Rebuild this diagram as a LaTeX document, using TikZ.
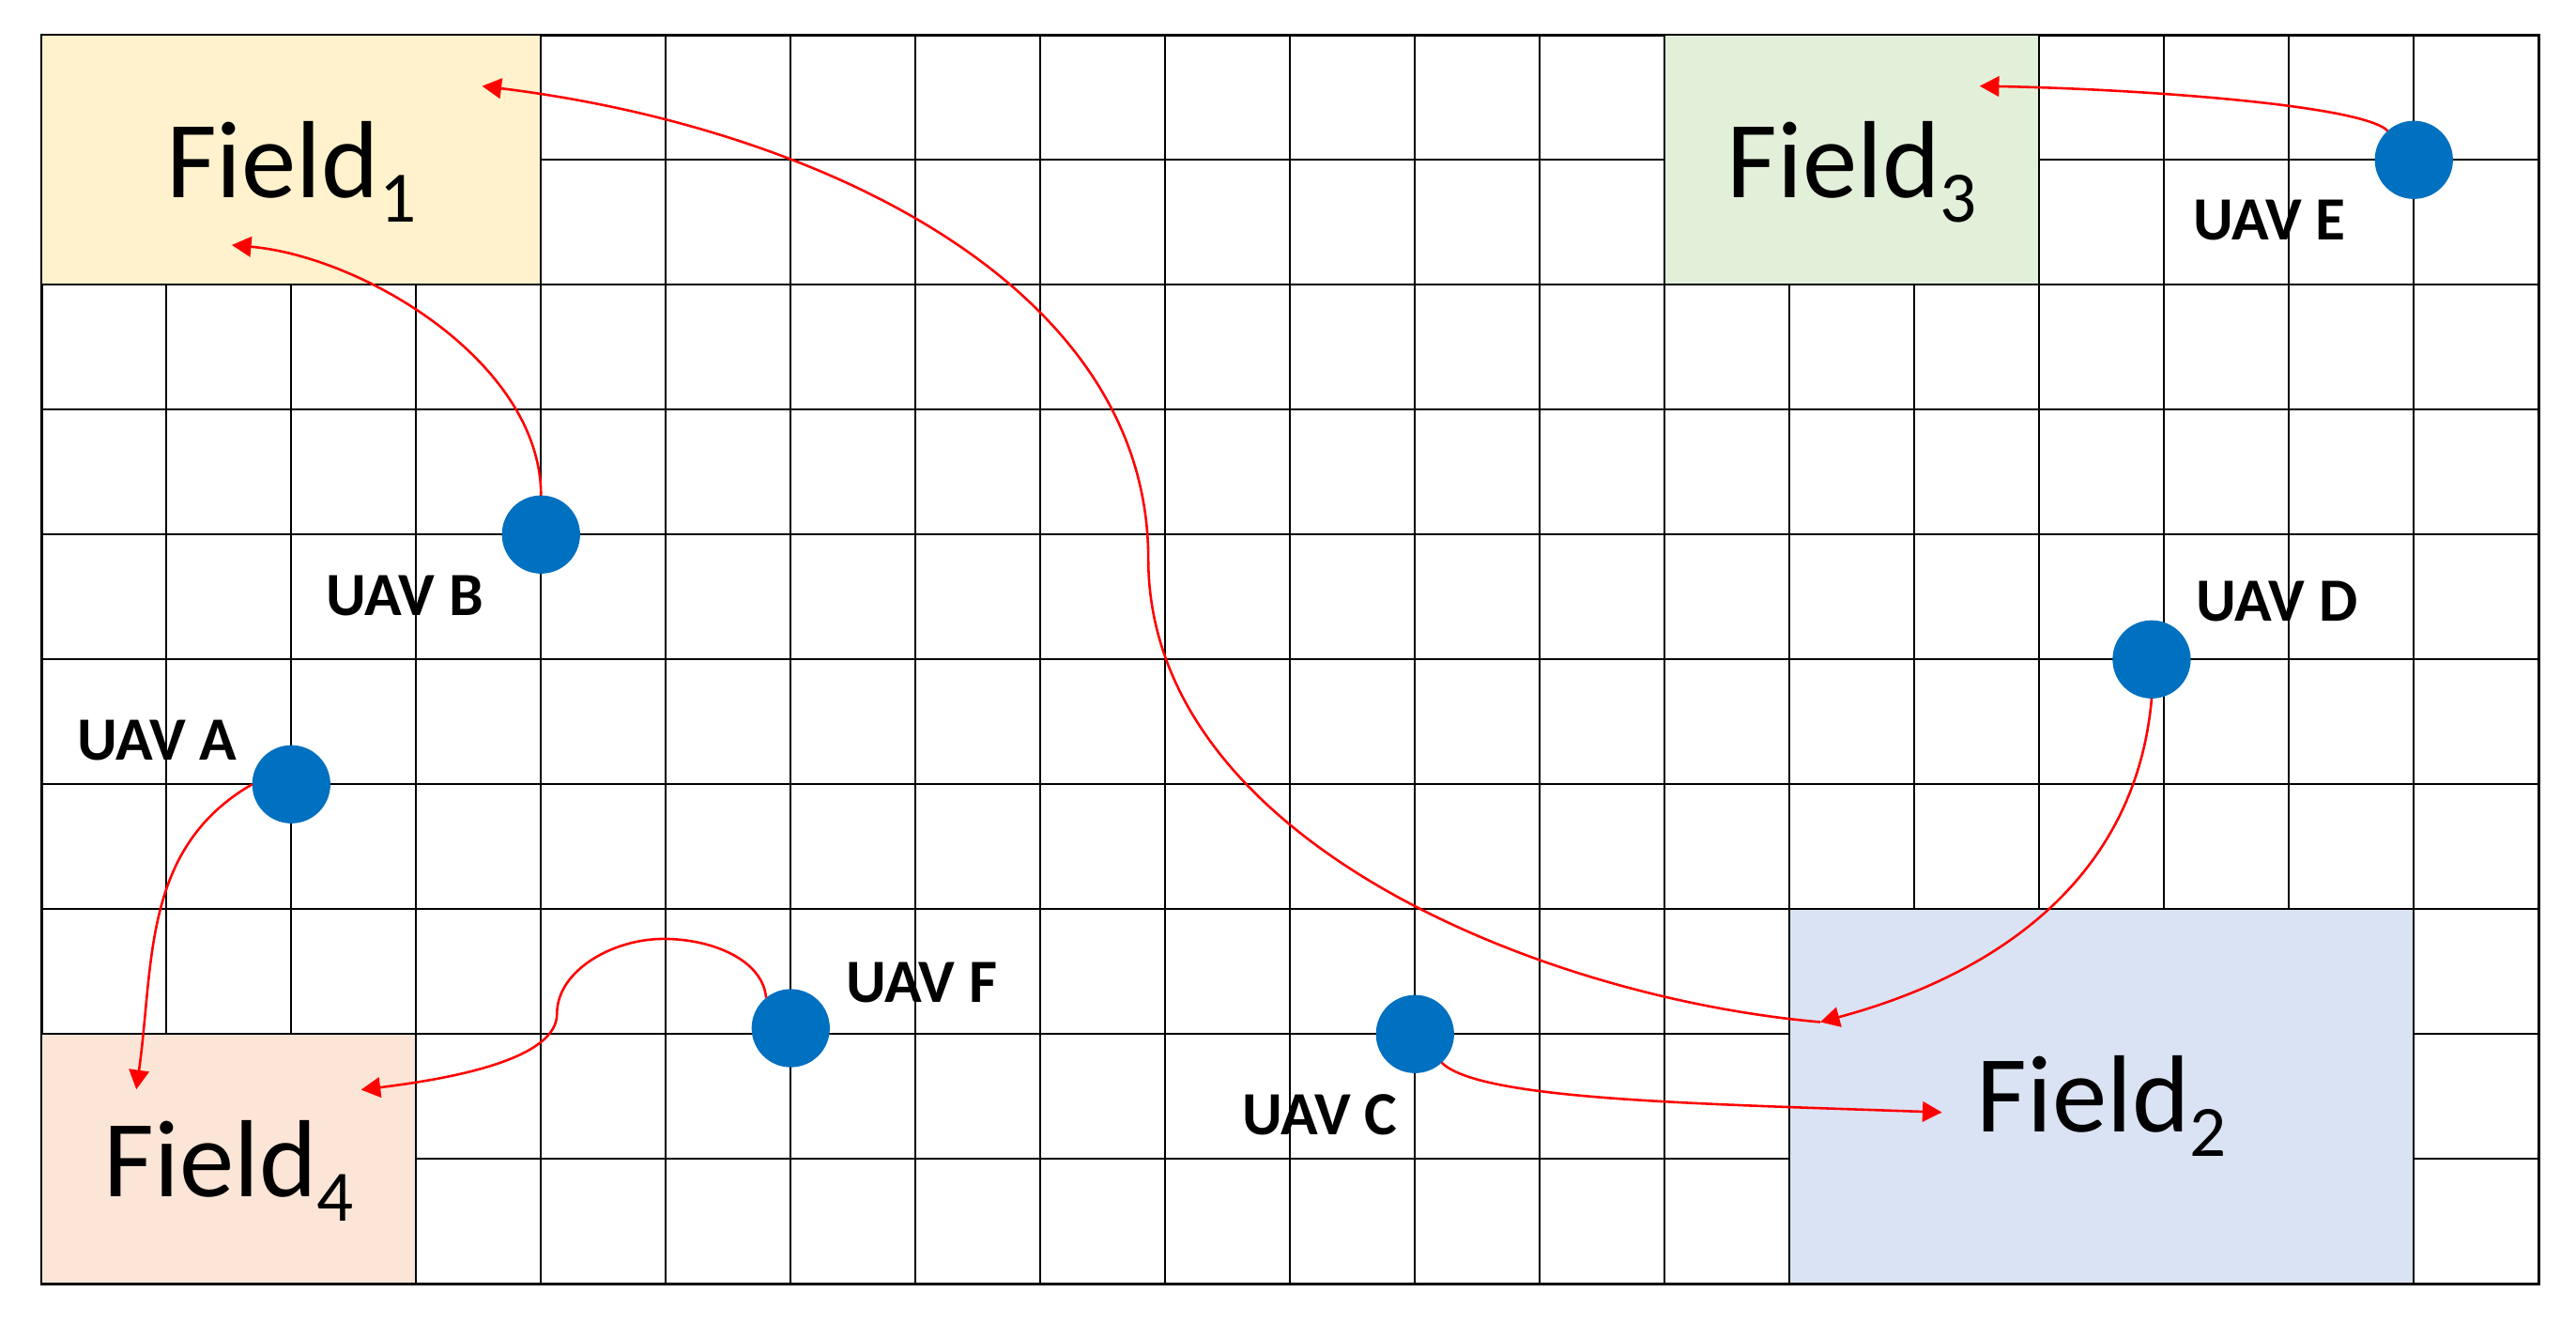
\documentclass[tikz,border=0pt]{standalone}
\usepackage{fontspec}
\setmainfont{Carlito}
\usetikzlibrary{arrows.meta}
\definecolor{uavblue}{HTML}{0070C0}
\definecolor{fone}{HTML}{FFF2CC}
\definecolor{ftwo}{HTML}{DAE3F3}
\definecolor{fthree}{HTML}{E2F0D9}
\definecolor{ffour}{HTML}{FBE5D6}
\newcommand{\fsub}[1]{\raisebox{-5.7pt}{\fontsize{16.5}{16.5}\selectfont #1}}
\begin{document}
\begin{tikzpicture}[
  gridline/.style={line width=0.5pt, black},
  field/.style={draw=black, line width=0.5pt, rectangle, inner sep=0pt, outer sep=0pt},
  ftext/.style={font=\fontsize{25}{30}\selectfont, inner sep=0pt, anchor=base},
  uav/.style={circle, fill=uavblue, minimum size=0.626cm, inner sep=0pt, outer sep=0pt},
  uavlabel/.style={font=\fontsize{14}{17}\selectfont\bfseries, inner sep=0pt},
  route/.style={red, line width=0.55pt, -{Triangle[length=4.4pt,width=4.6pt]}},
  routeplain/.style={red, line width=0.55pt}
]
\useasboundingbox (-0.333,0.280) rectangle (20.299,-10.312);
\draw[gridline] (0,0) grid (20,-10);
\draw[line width=0.6pt] (0,0) rectangle (20,-10);

% fields
\node[field, fill=fone, minimum width=4cm, minimum height=2cm] (F1) at (2,-1) {};
\node[field, fill=fthree, minimum width=3cm, minimum height=2cm] (F3) at (14.5,-1) {};
\node[field, fill=ftwo, minimum width=5cm, minimum height=3cm] (F2) at (16.5,-8.5) {};
\node[field, fill=ffour, minimum width=3cm, minimum height=2cm] (F4) at (1.5,-9) {};
\node[ftext] (ft1) at ([yshift=-0.3cm]F1.center) {Field\fsub{1}};
\node[ftext] (ft3) at ([yshift=-0.3cm]F3.center) {Field\fsub{3}};
\node[ftext] (ft2) at ([yshift=-0.28cm]F2.center) {Field\fsub{2}};
\node[ftext] (ft4) at ([yshift=-0.3cm]F4.center) {Field\fsub{4}};

% UAVs
\node[uav] (A) at (2,-6) {};
\node[uav] (B) at (4,-4) {};
\node[uav] (C) at (11,-8) {};
\node[uav] (D) at (16.9,-5) {};
\node[uav] (E) at (19,-1) {};
\node[uav] (F) at (6,-7.953) {};
\node[uavlabel] (lA) at (0.925,-5.652) {UAV A};
\node[uavlabel] (lB) at (2.910,-4.488) {UAV B};
\node[uavlabel] (lC) at (10.238,-8.647) {UAV C};
\node[uavlabel] (lD) at (17.904,-4.538) {UAV D};
\node[uavlabel] (lE) at (17.843,-1.480) {UAV E};
\node[uavlabel] (lF) at (7.049,-7.586) {UAV F};

% route end points
\coordinate (m2) at (14.246,-7.904);
\coordinate (v) at (8.864,-4.194);
\coordinate (t1) at (3.528,-0.409);
\coordinate (t1b) at (1.524,-1.682);
\coordinate (t3) at (15.523,-0.409);
\coordinate (t2) at (15.22,-8.627);
\coordinate (t4a) at (0.759,-8.443);
\coordinate (h1) at (4.98,-7.238);
\coordinate (h2) at (4.128,-7.838);
\coordinate (t4) at (2.559,-8.446);

% routes
\draw[route] (B.north) to[out=90,in=-5,looseness=0.85] (t1b);
\draw[route] (A.west) to[out=210,in=82] (t4a);
\draw[route] (F.129) .. controls +(95:0.3) and +(0:0.4) .. (h1)
  .. controls +(180:0.4) and +(90:0.35) .. (h2)
  .. controls +(270:0.35) and +(7:0.8) .. (t4);
\draw[route] (C.-47) .. controls +(-45:0.42) and +(178:2.0) .. (t2);
\draw[route] (D.south) to[out=265,in=15] (m2);
\draw[route] (m2) .. controls +(175:2.25) and +(270:2.25) .. (v)
  .. controls +(90:2.2) and +(-7:2.7) .. (t1);
\draw[route] (E.132) .. controls +(135:0.3) and +(-1:1.2) .. (t3);
\end{tikzpicture}
\end{document}
